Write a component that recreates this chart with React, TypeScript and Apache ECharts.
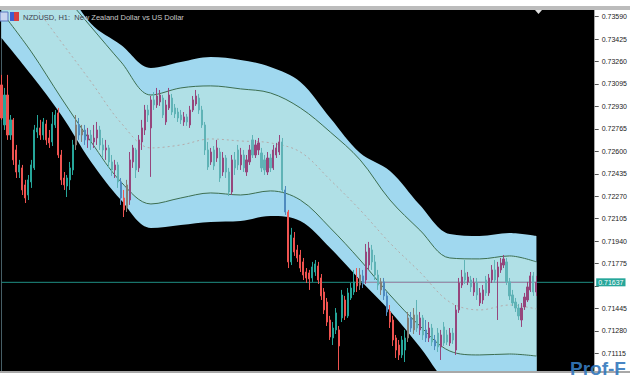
import React, { useEffect, useRef } from "react";
import * as echarts from "echarts";

// ---- data ----
const barCount = 180;
const emptyBars = 19;
const lastPrice = 0.71637;
const titleMain = "NZDUSD, H1:  Ne";
const titleRest = "w Zealand Dollar vs US Dollar";
const yTicks = [0.7359, 0.73425, 0.7326, 0.73095, 0.7293, 0.72765, 0.726, 0.72435, 0.7227, 0.72105, 0.7194, 0.71775, 0.7161, 0.71445, 0.7128, 0.71115];
// the 0.71610 label sits under the current-price label in the reference
const yLabels = yTicks.filter((v) => Math.abs(v - lastPrice) > 0.0005);

const bandIdx = [0, 10, 20, 30, 40, 50, 60, 70, 80, 90, 100, 110, 120, 130, 140, 150, 160, 170, 179];
const upperOuter = [0.74375, 0.74139, 0.7386, 0.73537, 0.73382, 0.73213, 0.73257, 0.73294, 0.73272, 0.7322, 0.7311, 0.72845, 0.72588, 0.72456, 0.72206, 0.71992, 0.71978, 0.72, 0.71978];
const upperInner = [0.74264, 0.74022, 0.73772, 0.73514, 0.73257, 0.73014, 0.73066, 0.73081, 0.73059, 0.73029, 0.72919, 0.72742, 0.72537, 0.72242, 0.72021, 0.71816, 0.71809, 0.71831, 0.71787];
const middle = [0.7397, 0.73698, 0.73404, 0.7311, 0.72809, 0.72625, 0.72647, 0.72691, 0.72676, 0.72662, 0.72595, 0.7239, 0.72169, 0.71926, 0.71713, 0.71492, 0.71434, 0.7147, 0.71441];
const lowerInner = [0.73625, 0.73331, 0.72992, 0.72669, 0.72375, 0.72213, 0.72257, 0.72294, 0.72279, 0.72309, 0.72242, 0.72037, 0.71801, 0.71544, 0.71316, 0.71132, 0.71103, 0.7111, 0.71095];
const lowerOuter = [0.73434, 0.73162, 0.72867, 0.72522, 0.72242, 0.72037, 0.72059, 0.72081, 0.72088, 0.72125, 0.72088, 0.71889, 0.71654, 0.71426, 0.71162, 0.70882, 0.70809, 0.70831, 0.70809];

// [open, close, low, high]
const ohlc = [
  [0.73088, 0.72845, 0.72831, 0.73162], [0.72794, 0.73014, 0.72757, 0.73066], [0.73014, 0.7272, 0.72684, 0.73162], [0.7272, 0.72831, 0.72684, 0.72867],
  [0.72831, 0.72537, 0.725, 0.72845], [0.7261, 0.72448, 0.72404, 0.72647], [0.72448, 0.725, 0.72404, 0.72537], [0.72478, 0.72316, 0.72279, 0.725],
  [0.72353, 0.72257, 0.7222, 0.7239], [0.72279, 0.7239, 0.72242, 0.72426], [0.72375, 0.725, 0.72331, 0.72537], [0.72478, 0.72757, 0.72463, 0.72794],
  [0.72742, 0.72772, 0.72698, 0.72867], [0.72772, 0.7272, 0.72684, 0.72831], [0.7272, 0.72816, 0.72684, 0.72845], [0.72801, 0.72684, 0.72647, 0.72831],
  [0.72698, 0.72662, 0.72625, 0.72757], [0.72669, 0.72801, 0.72639, 0.72889], [0.72794, 0.72867, 0.72772, 0.72904], [0.72882, 0.72573, 0.72551, 0.72919],
  [0.72573, 0.7239, 0.72353, 0.7261], [0.72404, 0.72353, 0.72316, 0.72448], [0.72345, 0.72404, 0.72264, 0.72426], [0.7239, 0.72478, 0.72316, 0.72522],
  [0.72463, 0.72647, 0.72426, 0.72684], [0.72647, 0.72794, 0.7261, 0.72867], [0.72794, 0.7272, 0.72684, 0.72845], [0.7272, 0.72757, 0.72669, 0.72794],
  [0.72757, 0.72684, 0.72647, 0.72794], [0.72684, 0.7272, 0.72625, 0.72772], [0.7272, 0.72669, 0.7261, 0.72757], [0.72669, 0.72698, 0.72625, 0.72794],
  [0.72698, 0.72757, 0.72647, 0.72816], [0.72757, 0.72647, 0.7261, 0.72787], [0.72647, 0.7261, 0.72551, 0.72698], [0.7261, 0.72625, 0.72537, 0.72684],
  [0.72625, 0.72522, 0.72478, 0.72647], [0.72522, 0.72463, 0.72419, 0.72573], [0.72463, 0.725, 0.72404, 0.72537], [0.725, 0.72375, 0.72331, 0.72522],
  [0.72375, 0.72257, 0.72206, 0.72404], [0.72257, 0.72169, 0.72117, 0.72316], [0.72184, 0.72353, 0.72154, 0.7239], [0.72242, 0.72537, 0.72206, 0.72595],
  [0.72522, 0.72625, 0.72478, 0.72647], [0.7261, 0.72463, 0.72404, 0.72625], [0.72478, 0.72684, 0.72448, 0.7272], [0.72669, 0.72772, 0.7261, 0.72831],
  [0.72757, 0.72904, 0.7272, 0.72941], [0.72904, 0.72867, 0.72816, 0.72941], [0.72772, 0.72978, 0.72412, 0.73007], [0.72978, 0.72941, 0.72904, 0.73036],
  [0.72941, 0.73007, 0.72919, 0.73066], [0.72963, 0.73014, 0.72934, 0.73051], [0.72992, 0.72867, 0.72845, 0.73014], [0.72816, 0.72941, 0.72794, 0.72978],
  [0.72919, 0.73014, 0.72904, 0.73066], [0.72992, 0.72889, 0.72867, 0.73022], [0.72919, 0.72875, 0.72845, 0.72948], [0.72889, 0.72845, 0.72816, 0.72919],
  [0.72867, 0.72831, 0.72801, 0.72904], [0.72816, 0.72853, 0.72787, 0.72889], [0.72853, 0.72816, 0.72787, 0.72875], [0.72794, 0.72904, 0.72772, 0.72934],
  [0.72904, 0.72978, 0.72889, 0.73007], [0.72948, 0.73007, 0.72934, 0.73051], [0.72992, 0.72904, 0.72875, 0.73022], [0.72904, 0.72794, 0.72772, 0.72934],
  [0.72794, 0.7261, 0.72573, 0.72816], [0.7261, 0.72485, 0.72463, 0.72669], [0.72522, 0.72595, 0.725, 0.72625], [0.7261, 0.72492, 0.72463, 0.72639],
  [0.72551, 0.72625, 0.72522, 0.72684], [0.72595, 0.72404, 0.72375, 0.72625], [0.72448, 0.72551, 0.72419, 0.72595], [0.72551, 0.72448, 0.72404, 0.72573],
  [0.72448, 0.72301, 0.72272, 0.72478], [0.72301, 0.72537, 0.72279, 0.72573], [0.72537, 0.72478, 0.72426, 0.72595], [0.7261, 0.725, 0.72463, 0.72647],
  [0.725, 0.72573, 0.72463, 0.72625], [0.72573, 0.72478, 0.72448, 0.7261], [0.72448, 0.72537, 0.72419, 0.72573], [0.72522, 0.7261, 0.725, 0.72647],
  [0.72684, 0.72573, 0.72551, 0.7272], [0.72573, 0.72647, 0.72551, 0.72684], [0.7261, 0.72662, 0.72573, 0.72698], [0.72588, 0.72478, 0.72448, 0.72625],
  [0.72537, 0.72463, 0.72426, 0.72573], [0.72448, 0.72551, 0.72426, 0.72595], [0.72551, 0.72478, 0.72448, 0.72581], [0.72478, 0.7261, 0.72463, 0.72647],
  [0.72573, 0.72625, 0.72551, 0.72662], [0.72595, 0.72669, 0.72573, 0.7272], [0.72669, 0.72316, 0.72301, 0.72698], [0.72316, 0.72154, 0.72132, 0.72345],
  [0.72154, 0.71787, 0.71742, 0.72169], [0.71787, 0.71985, 0.71764, 0.72037], [0.71963, 0.7186, 0.71831, 0.72007], [0.71875, 0.71816, 0.71787, 0.71912],
  [0.71838, 0.71742, 0.71713, 0.71875], [0.71787, 0.71691, 0.71654, 0.71816], [0.71713, 0.71669, 0.71632, 0.71742], [0.71706, 0.71662, 0.71581, 0.71728],
  [0.71669, 0.7175, 0.7164, 0.71787], [0.71713, 0.71772, 0.71684, 0.71801], [0.71757, 0.71654, 0.71625, 0.71787], [0.71669, 0.71537, 0.71507, 0.71698],
  [0.71566, 0.71434, 0.71404, 0.71595], [0.71492, 0.71345, 0.71316, 0.71522], [0.7136, 0.71235, 0.71213, 0.7139], [0.71228, 0.71301, 0.71176, 0.71345],
  [0.71287, 0.71412, 0.71257, 0.71448], [0.71287, 0.71169, 0.70992, 0.71316], [0.71375, 0.71544, 0.71345, 0.71581], [0.71507, 0.7139, 0.7136, 0.71537],
  [0.7139, 0.71559, 0.71375, 0.71595], [0.71522, 0.71595, 0.71507, 0.71632], [0.71566, 0.7164, 0.71544, 0.71728], [0.71669, 0.7161, 0.71566, 0.71742],
  [0.71617, 0.71691, 0.71581, 0.71742], [0.71684, 0.71625, 0.71595, 0.71728], [0.71654, 0.7186, 0.71625, 0.71919], [0.71764, 0.71889, 0.71728, 0.71934],
  [0.71875, 0.71787, 0.71728, 0.71912], [0.71787, 0.71691, 0.71654, 0.71838], [0.71691, 0.71617, 0.71581, 0.71728], [0.71581, 0.7164, 0.71544, 0.71669],
  [0.7164, 0.71537, 0.71507, 0.71669], [0.71537, 0.71419, 0.7139, 0.71566], [0.71419, 0.71345, 0.71301, 0.7147], [0.7136, 0.71213, 0.71169, 0.7139],
  [0.71228, 0.71139, 0.71081, 0.7125], [0.71176, 0.71103, 0.71066, 0.71213], [0.71103, 0.71213, 0.71081, 0.71242], [0.71139, 0.71228, 0.71051, 0.71287],
  [0.71228, 0.71375, 0.71198, 0.71419], [0.71375, 0.71301, 0.71272, 0.71419], [0.71287, 0.71397, 0.71257, 0.71448], [0.71397, 0.71301, 0.71272, 0.71507],
  [0.71287, 0.71375, 0.7125, 0.71419], [0.71375, 0.7125, 0.71213, 0.71397], [0.71287, 0.71228, 0.71198, 0.7136], [0.71228, 0.71301, 0.71198, 0.71345],
  [0.71301, 0.71198, 0.71169, 0.71331], [0.71213, 0.71169, 0.71139, 0.7125], [0.71264, 0.71162, 0.71125, 0.71301], [0.71162, 0.7125, 0.71066, 0.71287],
  [0.71309, 0.71191, 0.71169, 0.71345], [0.7125, 0.71198, 0.71176, 0.71287], [0.71191, 0.71264, 0.71169, 0.71301], [0.71264, 0.71213, 0.71184, 0.71301],
  [0.71139, 0.71434, 0.71103, 0.7147], [0.71434, 0.71632, 0.71412, 0.71669], [0.71617, 0.71676, 0.71595, 0.71728], [0.71706, 0.71654, 0.71625, 0.71801],
  [0.7164, 0.71676, 0.71617, 0.71713], [0.71654, 0.71603, 0.71566, 0.71684], [0.71566, 0.71632, 0.71537, 0.71669], [0.71632, 0.71544, 0.71507, 0.71669],
  [0.71485, 0.71559, 0.71463, 0.71595], [0.71507, 0.71581, 0.71478, 0.71617], [0.71654, 0.71559, 0.71537, 0.71684], [0.71559, 0.71669, 0.71537, 0.71698],
  [0.71654, 0.71728, 0.71632, 0.71764], [0.71728, 0.71654, 0.71632, 0.71801], [0.71676, 0.7175, 0.7136, 0.71787], [0.71728, 0.71779, 0.71706, 0.71816],
  [0.71764, 0.71809, 0.71742, 0.71838], [0.71787, 0.7164, 0.71617, 0.71816], [0.7164, 0.71537, 0.71507, 0.71669], [0.71544, 0.71485, 0.71463, 0.71581],
  [0.71492, 0.71448, 0.71419, 0.71522], [0.71448, 0.7139, 0.7136, 0.71478], [0.7136, 0.71448, 0.71309, 0.71485], [0.71456, 0.71529, 0.71434, 0.71559],
  [0.71507, 0.71603, 0.71492, 0.7164], [0.71581, 0.71684, 0.71566, 0.71713], [0.71684, 0.71566, 0.71537, 0.71713], [0.71566, 0.71637, 0.71537, 0.71684],
];

// ---- styles ----
const BULL = "#26a69a";
const BEAR = "#ef5350";
const SKY = "#a0d8ef";
const POWDER = "#b0e0e6";
const BAND_LINE = "#3d6e50";
const PRICE_LINE = "#1f8f84";
const PRICE_LINE_ON_BAND = "#b08cb0";

function xorColor(a: string, b: string) {
  const pa = parseInt(a.slice(1), 16);
  const pb = parseInt(b.slice(1), 16);
  return "#" + ((pa ^ pb) & 0xffffff).toString(16).padStart(6, "0");
}

function bandAt(arr: number[], i: number) {
  for (let k = 0; k < bandIdx.length - 1; k++) {
    if (i <= bandIdx[k + 1]) {
      const t = (i - bandIdx[k]) / (bandIdx[k + 1] - bandIdx[k]);
      return arr[k] + t * (arr[k + 1] - arr[k]);
    }
  }
  return arr[arr.length - 1];
}

function backgroundAt(price: number, i: number): string | null {
  if (price > bandAt(upperOuter, i) || price < bandAt(lowerOuter, i)) return null;
  if (price <= bandAt(upperInner, i) && price >= bandAt(lowerInner, i)) return POWDER;
  return SKY;
}

const categories = Array.from({ length: barCount + emptyBars }, (_, i) => String(i));
const lastCat = barCount + emptyBars - 1;

const candleData = ohlc.map((d, i) => {
  const bg = backgroundAt((d[0] + d[1]) / 2, i);
  const base = d[1] >= d[0] ? BULL : BEAR;
  const col = bg ? xorColor(base, bg) : base;
  return { value: d, itemStyle: { color: col, color0: col, borderColor: col, borderColor0: col } };
});

let bandStart = barCount - 1;
for (let i = 0; i < barCount; i++) {
  if (bandAt(lowerOuter, i) <= lastPrice) { bandStart = i; break; }
}

const bandSeries = (name: string, arr: number[], fill: string | null, line: string | null, z: number) => ({
  type: "line",
  name,
  data: bandIdx.map((x, k) => [x, arr[k]]),
  smooth: 0.35,
  symbol: "none",
  silent: true,
  z,
  lineStyle: line ? { color: line, width: 1 } : { width: 0, opacity: 0 },
  areaStyle: fill ? { color: fill, opacity: 1, origin: "start" } : undefined,
});

const FONT = "Liberation Sans";

export default function App() {
  const ref = useRef<HTMLDivElement>(null);
  useEffect(() => {
    const chart = echarts.init(ref.current!, null, { renderer: "svg" });
    chart.setOption({
      animation: false,
      backgroundColor: "#ffffff",
      grid: { left: 0, right: 31, top: 10, bottom: 9, show: true, backgroundColor: "#000000", borderWidth: 0 },
      xAxis: { type: "category", data: categories, boundaryGap: true, show: false },
      yAxis: {
        type: "value",
        position: "right",
        min: 0.70985,
        max: 0.73639,
        splitLine: { show: false },
        axisLine: { show: true, lineStyle: { color: "#a8a8a8", width: 1 } },
        axisTick: { show: true, length: 4, lineStyle: { color: "#555" }, customValues: yTicks },
        axisLabel: {
          customValues: yLabels,
          formatter: (v: number) => v.toFixed(5),
          fontSize: 7,
          fontFamily: FONT,
          color: "#222",
          margin: 7,
        },
      },
      series: [
        bandSeries("upperOuter", upperOuter, SKY, null, 1),
        bandSeries("upperInner", upperInner, POWDER, BAND_LINE, 1),
        bandSeries("lowerInner", lowerInner, SKY, BAND_LINE, 1),
        bandSeries("lowerOuter", lowerOuter, "#000000", null, 1),
        {
          type: "line",
          name: "middle",
          data: bandIdx.map((x, k) => [x, middle[k]]),
          smooth: 0.35,
          symbol: "none",
          silent: true,
          z: 1,
          lineStyle: { color: "#b4aaaa", width: 1, type: [2, 3] },
        },
        {
          type: "line",
          name: "priceLine",
          data: [[0, lastPrice], [lastCat, lastPrice]],
          symbol: "none",
          silent: true,
          z: 2,
          lineStyle: { color: PRICE_LINE, width: 1 },
          endLabel: {
            show: true,
            distance: 3,
            formatter: () => lastPrice.toFixed(5),
            color: "#ffffff",
            backgroundColor: "#26a69a",
            padding: [1, 2, 0, 2],
            fontSize: 7,
            fontFamily: FONT,
          },
        },
        {
          type: "line",
          name: "priceLineOnBand",
          data: [[bandStart, lastPrice], [barCount - 1, lastPrice]],
          symbol: "none",
          silent: true,
          z: 3,
          lineStyle: { color: PRICE_LINE_ON_BAND, width: 1 },
        },
        {
          type: "candlestick",
          data: candleData,
          barWidth: 1.6,
          z: 4,
          itemStyle: { borderWidth: 1 },
        },
      ],
      graphic: [
        { type: "rect", z: 100, shape: { x: 0, y: 6, width: 630, height: 4 }, style: { fill: "#bcbcbc" } },
        { type: "rect", z: 100, shape: { x: 0, y: 371, width: 630, height: 2 }, style: { fill: "#a8a8a8" } },
        { type: "polygon", z: 100, shape: { points: [[535, 10], [542, 10], [538.5, 14]] }, style: { fill: "#e0e0e0" } },
        { type: "rect", z: 100, shape: { x: 0, y: 12, width: 8, height: 9 }, style: { fill: "#c8d4f0", stroke: "#5a78c0", lineWidth: 1 } },
        { type: "rect", z: 100, shape: { x: 10, y: 12, width: 4, height: 9 }, style: { fill: "#3d5fd0" } },
        { type: "rect", z: 100, shape: { x: 14, y: 12, width: 5, height: 9 }, style: { fill: "#d84040" } },
        {
          type: "text",
          z: 100,
          x: 23,
          y: 17,
          style: {
            text: "{a|" + titleMain + "}{b|" + titleRest + "}",
            fontSize: 7.5,
            fontFamily: FONT,
            verticalAlign: "middle",
            rich: {
              a: { fill: "#40404e", fontSize: 7.5, fontFamily: FONT },
              b: { fill: "#c8c8c8", fontSize: 7.5, fontFamily: FONT },
            },
          },
        },
        {
          type: "text",
          z: 100,
          x: 570,
          y: 359,
          style: {
            text: "Prof-F",
            fontSize: 19,
            fontWeight: "bold",
            fontFamily: "Liberation Sans Narrow, Liberation Sans",
            fill: "#3479bd",
            opacity: 0.92,
          },
        },
      ],
    });
    return () => chart.dispose();
  }, []);
  return <div ref={ref} style={{ position: "fixed", left: 0, top: 0, width: 630, height: 380 }} />;
}
